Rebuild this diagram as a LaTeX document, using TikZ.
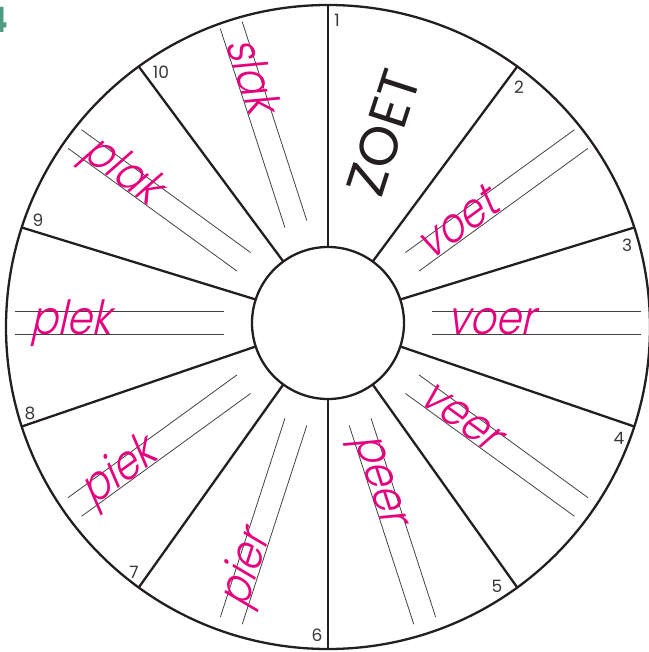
\documentclass[tikz,border=0pt]{standalone}
\usepackage{fontspec}
\setmainfont{Poppins}
\IfFontExistsTF{Poppins Light}{%
  \newfontfamily\hand{Poppins Light}[FakeSlant=0.26]
  \def\handsize{\fontsize{47}{47}\selectfont}\def\handxs{0.86}%
}{%
  \newfontfamily\hand{lmmonoltcond10-regular.otf}[FakeSlant=0.22]
  \def\handsize{\fontsize{58}{58}\selectfont}\def\handxs{1}%
}
\usetikzlibrary{calc}
\definecolor{pinkhand}{RGB}{230,0,126}
\definecolor{teal4}{RGB}{78,156,128}
\definecolor{ink}{RGB}{35,31,32}
\begin{document}
\begin{tikzpicture}[x=1pt,y=1pt,
  rim/.style={line width=2.3pt, draw=ink},
  spoke/.style={line width=2.3pt, draw=ink},
  wline/.style={line width=0.8pt, draw=ink!85},
  word/.style={text=pinkhand, font=\hand\handsize, inner sep=0pt, anchor=base west, xscale=\handxs, transform shape},
  num/.style={text=ink!90, font=\fontsize{17}{17}\selectfont, inner sep=0pt},
  bigword/.style={text=ink, font=\fontsize{54}{54}\selectfont, inner sep=0pt, transform shape},
]
\useasboundingbox (0,0) rectangle (648,-652);
\coordinate (O) at (328,-327);
\coordinate (C) at (328,-323);
\draw[rim] (O) circle[radius=322];
\draw[rim, fill=white] (C) circle[radius=76];
\foreach \a [count=\i] in {90,54,18,-18,-54,-90,-126,-162,162,126} {
  \draw[spoke] ($(C)+(\a:76)$) coordinate (s\i a) -- ($(O)+(\a:322)$) coordinate (s\i b);
}
% right sectors: words read outward
\foreach \rot/\w in {36/voet, 0/voer, -36/veer, -72/peer} {
  \begin{scope}[shift={(C)}, rotate=\rot]
    \coordinate (r\w a) at (104,11.5);
    \coordinate (r\w b) at (313,11.5);
    \coordinate (r\w c) at (104,-11.5);
    \coordinate (r\w d) at (313,-11.5);
    \draw[wline] (r\w a) -- (r\w b);
    \draw[wline] (r\w c) -- (r\w d);
    \node[word] (w\w) at (119,-11) {\w};
  \end{scope}
}
% left sectors: words read inward
\foreach \rot/\w in {72/pier, 36/piek, 0/plek, -36/plak, -72/slak} {
  \begin{scope}[shift={(C)}, rotate=\rot]
    \coordinate (l\w a) at (-313,11.5);
    \coordinate (l\w b) at (-104,11.5);
    \coordinate (l\w c) at (-313,-11.5);
    \coordinate (l\w d) at (-104,-11.5);
    \draw[wline] (l\w a) -- (l\w b);
    \draw[wline] (l\w c) -- (l\w d);
    \node[word] (w\w) at (-298,-11) {\w};
  \end{scope}
}
\begin{scope}[shift={(C)}, rotate=72]
  \node[bigword] (zoet) at (198,6) {ZOET};
\end{scope}
\node[num] (n1) at (337,-20) {1};
\node[num] (n2) at (519,-87) {2};
\node[num] (n3) at (627,-245) {3};
\node[num] (n4) at (619,-438) {4};
\node[num] (n5) at (497,-586) {5};
\node[num] (n6) at (317,-635) {6};
\node[num] (n7) at (134,-572) {7};
\node[num] (n8) at (30,-413) {8};
\node[num] (n9) at (38,-220) {9};
\node[num] (n10) at (161,-72) {10};
\node[text=teal4, font=\bfseries\fontsize{35}{35}\selectfont, anchor=base east, inner sep=0pt] (ex) at (8,-33) {4};
\end{tikzpicture}
\end{document}
